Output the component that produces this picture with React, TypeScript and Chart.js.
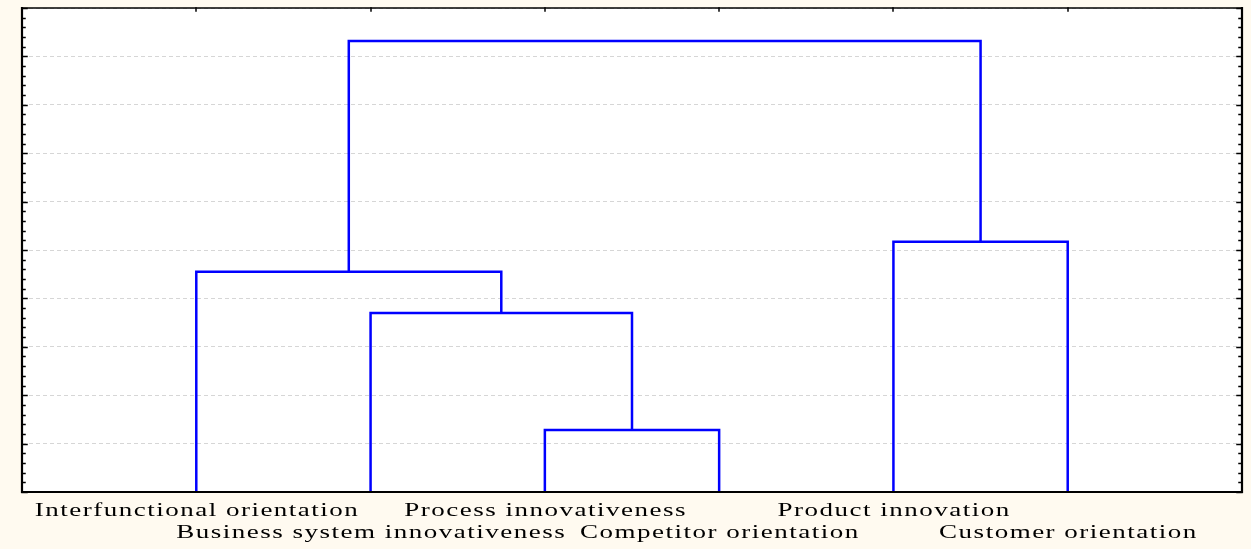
import React, { useEffect, useRef } from "react";
import { Chart, registerables } from "chart.js";

Chart.register(...registerables);

const leafLabels = [
  "Interfunctional orientation",
  "Business system innovativeness",
  "Process innovativeness",
  "Competitor orientation",
  "Product innovation",
  "Customer orientation",
];
const leafPositions = [1, 2, 3, 4, 5, 6];
// merges: node ids 0-5 are leaves, merges create nodes 6..10
const mergeLeft = [2, 1, 0, 4, 8];
const mergeRight = [3, 6, 7, 5, 9];
const mergeHeight = [1.28, 3.7, 4.55, 5.17, 9.32];
const yMin = 0;
const yMax = 10;
const xMin = 0;
const xMax = 7;

function buildDatasets() {
  const nodeX: number[] = [...leafPositions];
  const nodeH: number[] = leafPositions.map(() => 0);
  const sets: any[] = [];
  for (let i = 0; i < mergeHeight.length; i++) {
    const a = mergeLeft[i];
    const b = mergeRight[i];
    const h = mergeHeight[i];
    sets.push({
      data: [
        { x: nodeX[a], y: nodeH[a] },
        { x: nodeX[a], y: h },
        { x: nodeX[b], y: h },
        { x: nodeX[b], y: nodeH[b] },
      ],
      borderColor: "#0000ff",
      borderWidth: 2.5,
      pointRadius: 0,
      tension: 0,
      fill: false,
      showLine: true,
    });
    nodeX.push((nodeX[a] + nodeX[b]) / 2);
    nodeH.push(h);
  }
  return sets;
}

const framePlugin = {
  id: "frame",
  beforeDraw(chart: any) {
    const { ctx, chartArea, width, height } = chart;
    ctx.save();
    ctx.fillStyle = "#fffaf0";
    ctx.fillRect(0, 0, width, height);
    ctx.fillStyle = "#ffffff";
    ctx.fillRect(chartArea.left, chartArea.top, chartArea.right - chartArea.left, chartArea.bottom - chartArea.top);
    ctx.restore();
  },
  afterDraw(chart: any) {
    const { ctx, chartArea } = chart;
    const { left, right, top, bottom } = chartArea;
    const ys = chart.scales.y;
    const xs = chart.scales.x;
    ctx.save();
    ctx.strokeStyle = "#000";
    ctx.lineCap = "square";
    // frame
    ctx.lineWidth = 1.5;
    ctx.beginPath();
    ctx.moveTo(left, top);
    ctx.lineTo(right, top);
    ctx.stroke();
    ctx.lineWidth = 2.2;
    ctx.beginPath();
    ctx.moveTo(left, top);
    ctx.lineTo(left, bottom);
    ctx.lineTo(right, bottom);
    ctx.lineTo(right, top);
    ctx.stroke();
    // minor / major ticks on left and right
    ctx.lineWidth = 1.5;
    for (let k = 0; k <= (yMax - yMin) * 5; k++) {
      const v = yMin + k * 0.2;
      const py = Math.round(ys.getPixelForValue(v)) + 0.5;
      const major = k % 5 === 0;
      const len = major ? 5 : 3;
      ctx.beginPath();
      ctx.moveTo(left, py);
      ctx.lineTo(left + len, py);
      ctx.moveTo(right, py);
      ctx.lineTo(right - len, py);
      ctx.stroke();
    }
    // top ticks at leaves
    for (const p of leafPositions) {
      const px = Math.round(xs.getPixelForValue(p));
      ctx.beginPath();
      ctx.moveTo(px, top);
      ctx.lineTo(px, top + 3);
      ctx.stroke();
    }
    // labels
    ctx.fillStyle = "#000";
    ctx.font = '18px "Liberation Serif", "Times New Roman", serif';
    (ctx as any).letterSpacing = "1px";
    ctx.textBaseline = "alphabetic";
    ctx.textAlign = "left";
    const sx = 1.5;
    leafLabels.forEach((lab, i) => {
      const cx = xs.getPixelForValue(leafPositions[i]);
      const by = bottom + (i % 2 === 0 ? 24 : 46);
      const w = ctx.measureText(lab).width - 1;
      ctx.save();
      ctx.translate(cx, by);
      ctx.scale(sx, 1);
      ctx.fillText(lab, -w / 2, 0);
      ctx.restore();
    });
    ctx.restore();
  },
};

export default function App() {
  const ref = useRef<HTMLCanvasElement | null>(null);
  useEffect(() => {
    document.body.style.margin = "0";
    document.body.style.background = "#fffaf0";
    if (!ref.current) return;
    const chart = new Chart(ref.current, {
      type: "line",
      data: { datasets: buildDatasets() },
      options: {
        animation: false,
        responsive: false,
        devicePixelRatio: 1,
        layout: { padding: { left: 22, top: 8, right: 9, bottom: 57 } },
        plugins: { legend: { display: false }, tooltip: { enabled: false } },
        scales: {
          x: { type: "linear", min: xMin, max: xMax, display: false },
          y: {
            type: "linear",
            min: yMin,
            max: yMax,
            display: true,
            ticks: { display: false, stepSize: 1 },
            grid: { color: "#d6d6d6", lineWidth: 1, drawTicks: false },
            border: { display: false, dash: [4, 3] },
          },
        },
      },
      plugins: [framePlugin],
    });
    return () => chart.destroy();
  }, []);
  return (
    <div style={{ width: 1251, height: 549 }}>
      <canvas ref={ref} width={1251} height={549} style={{ display: "block" }} />
    </div>
  );
}
